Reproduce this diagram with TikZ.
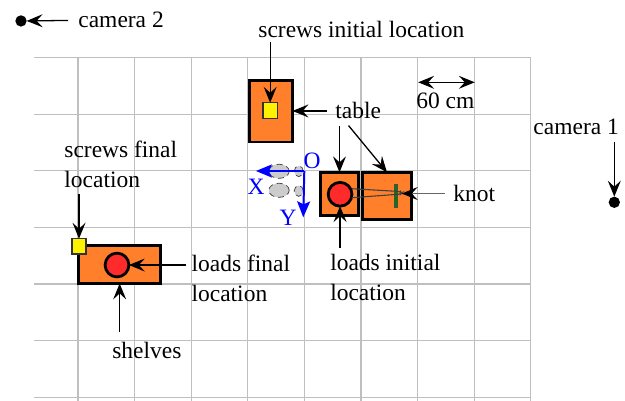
\documentclass[tikz,border=0pt]{standalone}
\usepackage{fontspec}
\setmainfont{Liberation Serif}
\usetikzlibrary{arrows.meta}
\definecolor{tableorange}{HTML}{FF7F2A}
\definecolor{loadred}{HTML}{FF2A2A}
\tikzset{
	arr/.style={-{Stealth[length=8pt,width=6.5pt,inset=3pt,black]},line width=0.65pt,shorten <=3pt},
	gridline/.style={draw=black!25,line width=0.6pt},
	furniture/.style={draw=black,fill=tableorange,line width=1.4pt,inner sep=0,outer sep=0},
	screwbox/.style={draw=black!80,fill=yellow,line width=0.7pt,inner sep=0,outer sep=0},
	loadball/.style={circle,draw=black,fill=loadred,line width=1.4pt,inner sep=0,outer sep=0,minimum size=0.42cm},
	campoint/.style={circle,fill=black,inner sep=0,outer sep=0,minimum size=0.2cm},
	lbl/.style={inner sep=0,anchor=base west,font=\fontsize{11.8}{15}\selectfont},
	bluelbl/.style={lbl,text=blue},
	axis/.style={-{Stealth[length=8pt,width=6.5pt,inset=1.5pt]},draw=blue,line width=1pt},
	foot/.style={draw=black!70,fill=black!20,densely dashed,line width=0.4pt}
}
\begin{document}
\begin{tikzpicture}
	\useasboundingbox (-1.378,-0.065) rectangle (9.664,7.019);
	% grid
	\draw[gridline] (-0.78,0)--(8,0);
	\draw[gridline] (-0.78,1)--(8,1);
	\draw[gridline] (-0.78,2)--(8,2);
	\draw[gridline] (-0.78,3)--(8,3);
	\draw[gridline] (-0.78,4)--(8,4);
	\draw[gridline] (-0.78,5)--(8,5);
	\draw[gridline] (-0.78,6)--(8,6);
	\draw[gridline] (0,-0.065)--(0,6);
	\draw[gridline] (1,-0.065)--(1,6);
	\draw[gridline] (2,-0.065)--(2,6);
	\draw[gridline] (3,-0.065)--(3,6);
	\draw[gridline] (4,-0.065)--(4,6);
	\draw[gridline] (5,-0.065)--(5,6);
	\draw[gridline] (6,-0.065)--(6,6);
	\draw[gridline] (7,-0.065)--(7,6);
	\draw[gridline] (8,-0.065)--(8,6);
	% furniture
	\node[furniture,minimum width=0.76cm,minimum height=1.08cm] (screwtable) at (3.41,5.05){};
	\node[furniture,minimum width=0.66cm,minimum height=0.77cm] (lefttable) at (4.62,3.59){};
	\node[furniture,minimum width=0.86cm,minimum height=0.83cm] (righttable) at (5.46,3.56){};
	\node[furniture,minimum width=1.45cm,minimum height=0.67cm] (shelf) at (0.736,2.346){};
	\node[screwbox,minimum width=0.25cm,minimum height=0.28cm] (screwinit) at (3.395,5.064){};
	\node[screwbox,minimum width=0.25cm,minimum height=0.27cm] (screwfinal) at (0.018,2.667){};
	\node[loadball] (loadinit) at (4.63,3.587){};
	\node[loadball] (loadfinal) at (0.689,2.337){};
	% rope and knot
	\node[draw=black!70,fill=green!50!black,line width=0.3pt,inner sep=0,outer sep=0,minimum width=0.06cm,minimum height=0.42cm] (knot) at (5.618,3.559){};
	\draw[black!75,line width=0.55pt,rounded corners=1pt] (4.836,3.685)--(5.7,3.635)--(5.72,3.61)--(5.7,3.59)--(4.836,3.526);
	\coordinate (ropeend) at (5.72,3.6);
	% feet
	\filldraw[foot] (3.551,3.993) ellipse (0.18 and 0.125);
	\filldraw[foot] (3.90,3.993) ellipse (0.08 and 0.095);
	\filldraw[foot] (3.551,3.657) ellipse (0.18 and 0.125);
	\filldraw[foot] (3.90,3.645) ellipse (0.08 and 0.095);
	% axes
	\coordinate (origin) at (3.998,3.998);
	\coordinate (xend) at (3.143,3.998);
	\coordinate (yend) at (3.98,3.18);
	\draw[axis] (origin)--(xend);
	\draw[axis] (origin)--(yend);
	\node[bluelbl] (olabel) at (3.98,4.046){O};
	\node[bluelbl] (xlabel) at (2.99,3.574){X};
	\node[bluelbl] (ylabel) at (3.556,3.044){Y};
	% cameras
	\node[campoint] (camtwo) at (-1.007,6.649){};
	\node[campoint] (camone) at (9.475,3.445){};
	\node[lbl] (camtwolabel) at (0,6.525){camera 2};
	\node[lbl] (camonelabel) at (8.04,4.65){camera 1};
	\draw[arr,shorten <=5pt] (camtwolabel.west)--(camtwo.east);
	\draw[arr,shorten <=3.5pt] (camonelabel.south -| camone)--(camone.north);
	% 60 cm mark
	\coordinate (spanleft) at (6.01,5.565);
	\coordinate (spanright) at (7.01,5.565);
	\draw[arr,{Stealth[length=8pt,width=6.5pt,inset=3pt]}-{Stealth[length=8pt,width=6.5pt,inset=3pt]},shorten <=0pt] (spanleft)--(spanright);
	\node[lbl] (spanlabel) at (5.97,5.106){60 cm};
	% labels
	\node[lbl] (screwinitlabel) at (3.18,6.365){screws initial location};
	\node[lbl] (tablelabel) at (4.54,4.917){table};
	\node[lbl,align=left,anchor=north west] (screwfinallabel) at (-0.247,4.54){screws final\\location};
	\node[lbl] (knotlabel) at (6.625,3.456){knot};
	\node[lbl,align=left,anchor=north west] (loadinitlabel) at (4.45,2.53){loads initial\\location};
	\node[lbl,align=left,anchor=north west] (loadfinallabel) at (2.0,2.52){loads final\\location};
	\node[lbl] (shelveslabel) at (0.6,0.677){shelves};
	\coordinate (tablefoot) at (4.78,4.80);
	% pointers
	\draw[arr,shorten <=2pt] (screwinitlabel.south -| screwinit)--(screwinit.north);
	\draw[arr,shorten <=4pt] (tablelabel.west)--(tablelabel.west -| screwtable.east);
	\draw[arr] (tablelabel.south -| lefttable.north)--(lefttable.north);
	\draw[arr,shorten <=0pt] (tablefoot)--(righttable.north);
	\draw[arr,shorten <=3pt] (screwfinallabel.south -| screwfinal)--(screwfinal.north);
	\draw[arr,draw=black!60,shorten <=4pt] (knotlabel.west |- ropeend)--(ropeend);
	\draw[arr] (loadinitlabel.north -| loadinit)--(loadinit.south);
	\draw[arr,shorten <=2.5pt] (loadfinallabel.west |- loadfinal)--(loadfinal.east);
	\draw[arr,shorten <=5pt] (shelveslabel.north -| shelf.south)--(shelf.south);
\end{tikzpicture}
\end{document}
